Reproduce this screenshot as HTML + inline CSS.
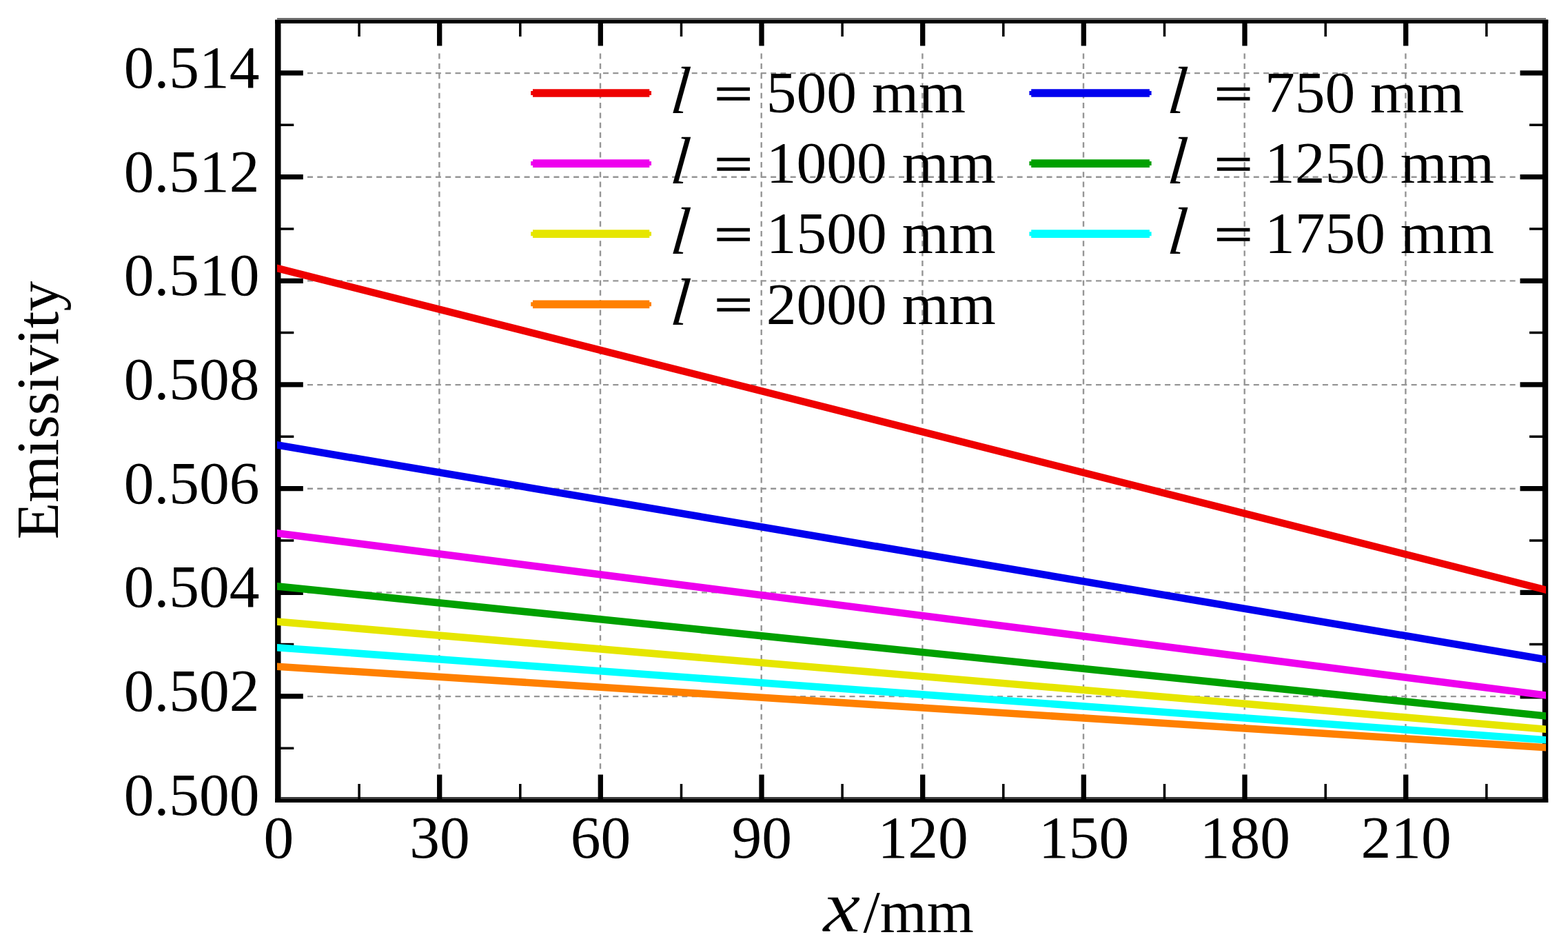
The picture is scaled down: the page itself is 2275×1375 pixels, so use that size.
<!DOCTYPE html>
<html lang="en">
<head>
<meta charset="utf-8">
<title>Emissivity vs x</title>
<style>
html,body{margin:0;padding:0;background:#fff;}
body{width:2275px;height:1375px;overflow:hidden;}
svg{display:block;}
text{font-family:"Liberation Serif",serif;fill:#000;}
.t{font-size:87.5px;}
.i{font-style:italic;}
.th{stroke:#fff;stroke-width:0.6px;}
.eq{stroke:#000;stroke-width:1.8px;}
</style>
</head>
<body>
<svg width="2275" height="1375" viewBox="0 0 2275 1375">
<rect x="0" y="0" width="2275" height="1375" fill="#fff"/>
<g stroke="#959595" stroke-width="2.4" fill="none" stroke-dasharray="8 6.3">
<path d="M446 1010.1H2205" />
<path d="M446 859.4H2205" />
<path d="M446 708.8H2205" />
<path d="M446 558.1H2205" />
<path d="M446 407.4H2205" />
<path d="M446 256.8H2205" />
<path d="M446 106.1H2205" />
<path d="M637.4 77.6V1120"/>
<path d="M871.0 77.6V1120"/>
<path d="M1104.7 77.6V1120"/>
<path d="M1338.4 77.6V1120"/>
<path d="M1572.0 77.6V1120"/>
<path d="M1805.7 77.6V1120"/>
<path d="M2039.4 77.6V1120"/>
</g>
<g stroke="#000" fill="none">
<path stroke-width="8.4" d="M403.3 28.7V1164M2242.0 28.5V1164"/>
<path stroke-width="5.2" d="M399 31.4H2246.2"/>
<path stroke="#6e6e6e" stroke-width="3" d="M402 27.4H2243"/>
<path stroke-width="5.6" d="M399 1161.1H2246.2"/>
<path stroke="#3c3c3c" stroke-width="2.6" d="M407 1157.3H2238.5"/>
<path stroke-width="7.3" d="M403.3 1009.9h36.5M2242.0 1009.9h-36.5M403.3 859.3h36.5M2242.0 859.3h-36.5M403.3 708.6h36.5M2242.0 708.6h-36.5M403.3 557.9h36.5M2242.0 557.9h-36.5M403.3 407.3h36.5M2242.0 407.3h-36.5M403.3 256.6h36.5M2242.0 256.6h-36.5M403.3 105.9h36.5M2242.0 105.9h-36.5M637.7 1160.0v-36.5M637.7 30.0v36.5M871.3 1160.0v-36.5M871.3 30.0v36.5M1105.0 1160.0v-36.5M1105.0 30.0v36.5M1338.7 1160.0v-36.5M1338.7 30.0v36.5M1572.3 1160.0v-36.5M1572.3 30.0v36.5M1806.0 1160.0v-36.5M1806.0 30.0v36.5M2039.7 1160.0v-36.5M2039.7 30.0v36.5"/>
<path stroke-width="3.5" d="M403.3 1085.3h23M2242.0 1085.3h-23M403.3 934.6h23M2242.0 934.6h-23M403.3 783.9h23M2242.0 783.9h-23M403.3 633.3h23M2242.0 633.3h-23M403.3 482.6h23M2242.0 482.6h-23M403.3 331.9h23M2242.0 331.9h-23M403.3 181.3h23M2242.0 181.3h-23M521.1 1160.0v-23M521.1 30.0v23M754.8 1160.0v-23M754.8 30.0v23M988.5 1160.0v-23M988.5 30.0v23M1222.1 1160.0v-23M1222.1 30.0v23M1455.8 1160.0v-23M1455.8 30.0v23M1689.5 1160.0v-23M1689.5 30.0v23M1923.2 1160.0v-23M1923.2 30.0v23M2156.8 1160.0v-23M2156.8 30.0v23"/>
</g>
<clipPath id="pc"><rect x="402" y="26" width="1841" height="1138"/></clipPath>
<g stroke-width="10.6" fill="none" clip-path="url(#pc)">
<path stroke="#ee0000" d="M392 386.47L2253 858.13"/>
<path stroke="#0000ee" d="M392 643.81L2253 958.29"/>
<path stroke="#ee00ee" d="M392 772.12L2253 1009.78"/>
<path stroke="#00a000" d="M392 849.28L2253 1039.52"/>
<path stroke="#e6e600" d="M392 900.75L2253 1058.65"/>
<path stroke="#00ffff" d="M392 938.47L2253 1073.93"/>
<path stroke="#ff8000" d="M392 966.16L2253 1084.94"/>
</g>
<g>
<path stroke="#ee0000" fill="none" stroke-width="11.7" d="M773.0 135.0H942.3"/><path stroke="#ee0000" fill="none" stroke-width="6" d="M770.2 135.0H945.0"/>
<text class="i" font-size="97" transform="translate(971.4 164.2) skewX(-6.5) scale(0.93 1)">l</text><text class="t eq" transform="translate(1036.4 159.8) scale(1.12 0.806)">=</text><text class="t" transform="translate(1111.8 163.2) scale(1 0.972)">500 mm</text>
</g>
<g>
<path stroke="#0000ee" fill="none" stroke-width="11.7" d="M1496.2 135.0H1667.9"/><path stroke="#0000ee" fill="none" stroke-width="6" d="M1493.4 135.0H1670.6"/>
<text class="i" font-size="97" transform="translate(1692.7 164.2) skewX(-6.5) scale(0.93 1)">l</text><text class="t eq" transform="translate(1761.9 159.8) scale(1.12 0.806)">=</text><text class="t" transform="translate(1835.0 163.2) scale(1 0.972)">750 mm</text>
</g>
<g>
<path stroke="#ee00ee" fill="none" stroke-width="11.7" d="M773.0 237.1H942.3"/><path stroke="#ee00ee" fill="none" stroke-width="6" d="M770.2 237.1H945.0"/>
<text class="i" font-size="97" transform="translate(971.4 266.3) skewX(-6.5) scale(0.93 1)">l</text><text class="t eq" transform="translate(1036.4 261.9) scale(1.12 0.806)">=</text><text class="t" transform="translate(1111.8 265.3) scale(1 0.972)">1000 mm</text>
</g>
<g>
<path stroke="#00a000" fill="none" stroke-width="11.7" d="M1496.2 237.1H1667.9"/><path stroke="#00a000" fill="none" stroke-width="6" d="M1493.4 237.1H1670.6"/>
<text class="i" font-size="97" transform="translate(1692.7 266.3) skewX(-6.5) scale(0.93 1)">l</text><text class="t eq" transform="translate(1761.9 261.9) scale(1.12 0.806)">=</text><text class="t" transform="translate(1835.0 265.3) scale(1 0.972)">1250 mm</text>
</g>
<g>
<path stroke="#e6e600" fill="none" stroke-width="11.7" d="M773.0 339.2H942.3"/><path stroke="#e6e600" fill="none" stroke-width="6" d="M770.2 339.2H945.0"/>
<text class="i" font-size="97" transform="translate(971.4 368.4) skewX(-6.5) scale(0.93 1)">l</text><text class="t eq" transform="translate(1036.4 364.0) scale(1.12 0.806)">=</text><text class="t" transform="translate(1111.8 367.4) scale(1 0.972)">1500 mm</text>
</g>
<g>
<path stroke="#00ffff" fill="none" stroke-width="11.7" d="M1496.2 339.2H1667.9"/><path stroke="#00ffff" fill="none" stroke-width="6" d="M1493.4 339.2H1670.6"/>
<text class="i" font-size="97" transform="translate(1692.7 368.4) skewX(-6.5) scale(0.93 1)">l</text><text class="t eq" transform="translate(1761.9 364.0) scale(1.12 0.806)">=</text><text class="t" transform="translate(1835.0 367.4) scale(1 0.972)">1750 mm</text>
</g>
<g>
<path stroke="#ff8000" fill="none" stroke-width="11.7" d="M773.0 441.3H942.3"/><path stroke="#ff8000" fill="none" stroke-width="6" d="M770.2 441.3H945.0"/>
<text class="i" font-size="97" transform="translate(971.4 470.5) skewX(-6.5) scale(0.93 1)">l</text><text class="t eq" transform="translate(1036.4 466.1) scale(1.12 0.806)">=</text><text class="t" transform="translate(1111.8 469.5) scale(1 0.972)">2000 mm</text>
</g>
<text class="t" text-anchor="end" x="376.5" y="1181.7">0.500</text>
<text class="t" text-anchor="end" x="376.5" y="1031.0">0.502</text>
<text class="t" text-anchor="end" x="376.5" y="880.4">0.504</text>
<text class="t" text-anchor="end" x="376.5" y="729.7">0.506</text>
<text class="t" text-anchor="end" x="376.5" y="579.0">0.508</text>
<text class="t" text-anchor="end" x="376.5" y="428.4">0.510</text>
<text class="t" text-anchor="end" x="376.5" y="277.7">0.512</text>
<text class="t" text-anchor="end" x="376.5" y="127.0">0.514</text>
<text class="t" text-anchor="middle" x="404.3" y="1244.2">0</text>
<text class="t" text-anchor="middle" x="638.0" y="1244.2">30</text>
<text class="t" text-anchor="middle" x="871.6" y="1244.2">60</text>
<text class="t" text-anchor="middle" x="1105.3" y="1244.2">90</text>
<text class="t" text-anchor="middle" x="1339.0" y="1244.2">120</text>
<text class="t" text-anchor="middle" x="1572.6" y="1244.2">150</text>
<text class="t" text-anchor="middle" x="1806.3" y="1244.2">180</text>
<text class="t" text-anchor="middle" x="2040.0" y="1244.2">210</text>
<text class="t" text-anchor="middle" transform="translate(84.2 595) rotate(-90)">Emissivity</text>
<text class="i th" font-size="109" transform="translate(1194.2 1351.2) scale(1.12 1)">x</text><text class="t" x="1252.5" y="1352">/mm</text>
</svg>
</body>
</html>
